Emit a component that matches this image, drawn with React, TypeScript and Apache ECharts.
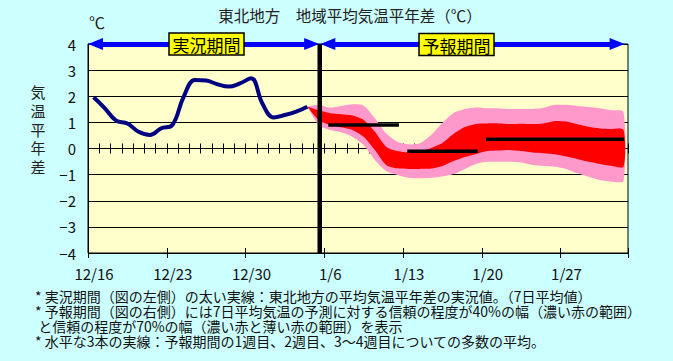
import React, { useEffect, useRef } from 'react';
import * as echarts from 'echarts';

const FONT = '"Noto Sans CJK JP", "Noto Sans CJK SC", sans-serif';

// x axis: days since 12/16
const xTickLabels = ['12/16', '12/23', '12/30', '1/6', '1/13', '1/20', '1/27'];
const xMax = 48;

// observed 7-day mean anomaly (thick navy line)
const obsDays = [0.5, 1.5, 2.5, 3.5, 4.5, 5.5, 6.5, 7.5, 8.5, 9.5, 10.5, 11.5, 12.5, 13.5, 14.5, 15.5, 16.5, 17.5, 18.5, 19.5];
const obsValues = [1.96, 1.54, 1.07, 0.96, 0.64, 0.52, 0.77, 0.9, 1.98, 2.62, 2.6, 2.46, 2.37, 2.49, 2.69, 1.72, 1.19, 1.28, 1.41, 1.6];

// forecast bands
const fcDays = [19.5, 20.5, 21.5, 22.5, 23.5, 24.5, 25.5, 26.5, 27.5, 28.5, 29.5, 30.5, 31.5, 32.5, 33.5, 34.5, 35.5, 36.5, 37.5, 38.5, 39.5, 40.5, 41.5, 42.5, 43.5, 44.5, 45.5, 46.5, 47.6];
const pinkUpper = [1.6, 1.67, 1.56, 1.63, 1.69, 1.64, 1.16, 0.58, 0.26, 0.16, 0.2, 0.52, 0.98, 1.36, 1.51, 1.57, 1.54, 1.54, 1.51, 1.51, 1.51, 1.56, 1.67, 1.67, 1.63, 1.59, 1.54, 1.47, 1.39];
const redUpper = [1.6, 1.47, 1.35, 1.31, 1.26, 1.09, 0.64, 0.07, -0.1, -0.15, -0.12, 0.02, 0.21, 0.56, 0.82, 0.94, 0.96, 0.96, 0.94, 0.95, 0.94, 0.96, 1.05, 1.03, 0.93, 0.83, 0.77, 0.75, 0.71];
const redLower = [1.6, 1.09, 0.9, 0.81, 0.71, 0.45, -0.06, -0.63, -0.76, -0.78, -0.78, -0.77, -0.67, -0.48, -0.33, -0.21, -0.1, -0.08, -0.06, -0.1, -0.15, -0.18, -0.22, -0.31, -0.4, -0.51, -0.59, -0.66, -0.7];
const pinkLower = [1.6, 0.9, 0.71, 0.62, 0.45, 0.13, -0.44, -0.86, -1.01, -1.12, -1.14, -1.12, -1.07, -0.98, -0.78, -0.59, -0.51, -0.51, -0.51, -0.54, -0.63, -0.67, -0.7, -0.78, -0.95, -1.08, -1.21, -1.27, -1.24];

// weekly ensemble means
const weekStarts = [21.36, 28.38, 35.38];
const weekEnds = [27.64, 34.64, 47.64];
const weekMeans = [0.9, -0.11, 0.35];

// periods
const dividerDay = 20.6;
const obsPeriod = [0, dividerDay];
const fcPeriod = [dividerDay, 47.7];

const title = '東北地方　地域平均気温平年差（℃）';
const notes = [
  '* 実況期間（図の左側）の太い実線：東北地方の平均気温平年差の実況値。（7日平均値）',
  '* 予報期間（図の右側）には7日平均気温の予測に対する信頼の程度が40%の幅（濃い赤の範囲）',
  ' と信頼の程度が70%の幅（濃い赤と薄い赤の範囲）を表示',
  '* 水平な3本の実線：予報期間の1週目、2週目、3～4週目についての多数の平均。',
];

const GRID = { left: 88, top: 44, width: 540, height: 209 };
const pxPerDay = GRID.width / xMax;
const arrowLen = 15;
const half = arrowLen / 2 / pxPerDay;

export default function App() {
  const ref = useRef<HTMLDivElement>(null);
  useEffect(() => {
    document.body.style.margin = '0';
    const chart = echarts.init(ref.current!, null, { renderer: 'svg' });

    const bandPoints = (api: any, hi: number[], lo: number[]) => {
      const top = fcDays.map((d, i) => api.coord([d, hi[i]]));
      const bottom = fcDays.map((d, i) => api.coord([d, lo[i]])).reverse();
      return top.concat(bottom);
    };

    const xCommon = {
      type: 'value',
      min: 0,
      max: xMax,
      splitLine: { show: false },
      axisLine: { show: false, onZero: false },
    };

    const option: any = {
      animation: false,
      backgroundColor: '#CCFFFF',
      grid: { ...GRID, show: true, backgroundColor: '#FFFFCC', borderColor: '#000', borderWidth: 1, containLabel: false },
      xAxis: [
        {
          ...xCommon,
          position: 'bottom',
          interval: 7,
          axisTick: { show: true, length: 5, lineStyle: { color: '#000', width: 1 } },
          axisLabel: {
            fontSize: 15,
            fontFamily: FONT,
            color: '#111',
            margin: 13,
            padding: [0, 0, 0, 12],
            formatter: (v: number) => (v % 7 === 0 && v / 7 < xTickLabels.length ? xTickLabels[v / 7] : ''),
          },
        },
        {
          ...xCommon,
          position: 'bottom',
          interval: 7,
          axisTick: { show: true, inside: true, length: 5, lineStyle: { color: '#000', width: 1 } },
          axisLabel: { show: false },
        },
        {
          ...xCommon,
          position: 'bottom',
          interval: 1,
          axisLine: { show: false, onZero: true, onZeroAxisIndex: 0 },
          axisTick: { show: true, length: 5, lineStyle: { color: '#000', width: 1 } },
          axisLabel: { show: false },
        },
        {
          ...xCommon,
          position: 'bottom',
          interval: 1,
          axisLine: { show: false, onZero: true, onZeroAxisIndex: 1 },
          axisTick: { show: true, inside: true, length: 5, lineStyle: { color: '#000', width: 1 } },
          axisLabel: { show: false },
        },
      ],
      yAxis: [
        {
          type: 'value',
          min: -4,
          max: 4,
          interval: 1,
          axisLine: { show: true, onZero: false, lineStyle: { color: '#000' } },
          axisTick: { show: false },
          splitLine: { show: true, lineStyle: { color: '#000', width: 1 } },
          axisLabel: {
            fontSize: 15,
            fontFamily: FONT,
            color: '#111',
            margin: 12,
            formatter: (v: number) => String(v).replace('-', '−'),
          },
        },
        {
          type: 'value',
          min: -4,
          max: 4,
          interval: 1,
          show: false,
          position: 'left',
        },
      ],
      series: [
        {
          type: 'custom',
          name: 'bands',
          silent: true,
          z: 2,
          xAxisIndex: 0,
          yAxisIndex: 0,
          encode: { x: 0, y: 1 },
          data: [[fcDays[0], pinkUpper[0]]],
          renderItem: (_params: any, api: any) => ({
            type: 'group',
            children: [
              {
                type: 'polygon',
                shape: { points: bandPoints(api, pinkUpper, pinkLower), smooth: 0.25 },
                style: { fill: '#FF99CC', stroke: 'none' },
              },
              {
                type: 'polygon',
                shape: { points: bandPoints(api, redUpper, redLower), smooth: 0.25 },
                style: { fill: '#FF0000', stroke: 'none' },
              },
            ],
          }),
        },
        ...weekMeans.map((m, i) => ({
          type: 'line',
          name: 'week' + i,
          symbol: 'none',
          silent: true,
          z: 4,
          lineStyle: { color: '#000', width: 3.5 },
          data: [[weekStarts[i], m], [weekEnds[i], m]],
        })),
        {
          type: 'line',
          name: 'obs',
          symbol: 'none',
          smooth: 0.4,
          silent: true,
          z: 5,
          lineStyle: { color: '#000080', width: 4 },
          data: obsDays.map((d, i) => [d, obsValues[i]]),
        },
        {
          type: 'line',
          name: 'divider',
          symbol: 'none',
          silent: true,
          clip: false,
          z: 6,
          lineStyle: { color: '#000', width: 4.5 },
          data: [[dividerDay, -4], [dividerDay, 4]],
          markLine: {
            silent: true,
            symbol: ['triangle', 'triangle'],
            symbolSize: [12, arrowLen],
            label: { show: false },
            lineStyle: { color: '#0000FF', width: 5, type: 'solid' },
            data: [
              [{ coord: [obsPeriod[0] + half, 4] }, { coord: [obsPeriod[1] - half - 0.05, 4] }],
              [{ coord: [fcPeriod[0] + half + 0.05, 4] }, { coord: [fcPeriod[1] - half, 4] }],
            ],
          },
        },
      ],
      graphic: [
        {
          type: 'text', x: 350, y: 15, z: 100,
          style: { text: title, font: `15.5px ${FONT}`, fill: '#222', align: 'center', verticalAlign: 'middle' },
        },
        {
          type: 'text', x: 97, y: 22, z: 100,
          style: { text: '℃', font: `16px ${FONT}`, fill: '#222', align: 'center', verticalAlign: 'middle' },
        },
        {
          type: 'text', x: 38, y: 129, z: 100,
          style: { text: '気\n温\n平\n年\n差', font: `15px ${FONT}`, lineHeight: 18.6, fill: '#222', align: 'center', verticalAlign: 'middle' },
        },
        {
          type: 'rect', z: 100,
          shape: { x: 169, y: 33, width: 75, height: 22 },
          style: { fill: '#FFFF00', stroke: '#000', lineWidth: 1.5 },
        },
        {
          type: 'text', x: 206.5, y: 44.5, z: 101,
          style: { text: '実況期間', font: `17px ${FONT}`, fill: '#000', align: 'center', verticalAlign: 'middle' },
        },
        {
          type: 'rect', z: 100,
          shape: { x: 419, y: 33.5, width: 75, height: 22 },
          style: { fill: '#FFFF00', stroke: '#000', lineWidth: 1.5 },
        },
        {
          type: 'text', x: 456.5, y: 45, z: 101,
          style: { text: '予報期間', font: `17px ${FONT}`, fill: '#000', align: 'center', verticalAlign: 'middle' },
        },
        {
          type: 'text', x: 35, y: 288.5, z: 100,
          style: { text: notes.join('\n'), font: `14px ${FONT}`, lineHeight: 15, fill: '#111', align: 'left', verticalAlign: 'top' },
        },
      ],
    };

    chart.setOption(option);
    return () => chart.dispose();
  }, []);
  return (
    <div
      ref={ref}
      style={{ position: 'fixed', left: 0, top: 0, width: 673, height: 361, background: '#CCFFFF' }}
    />
  );
}
